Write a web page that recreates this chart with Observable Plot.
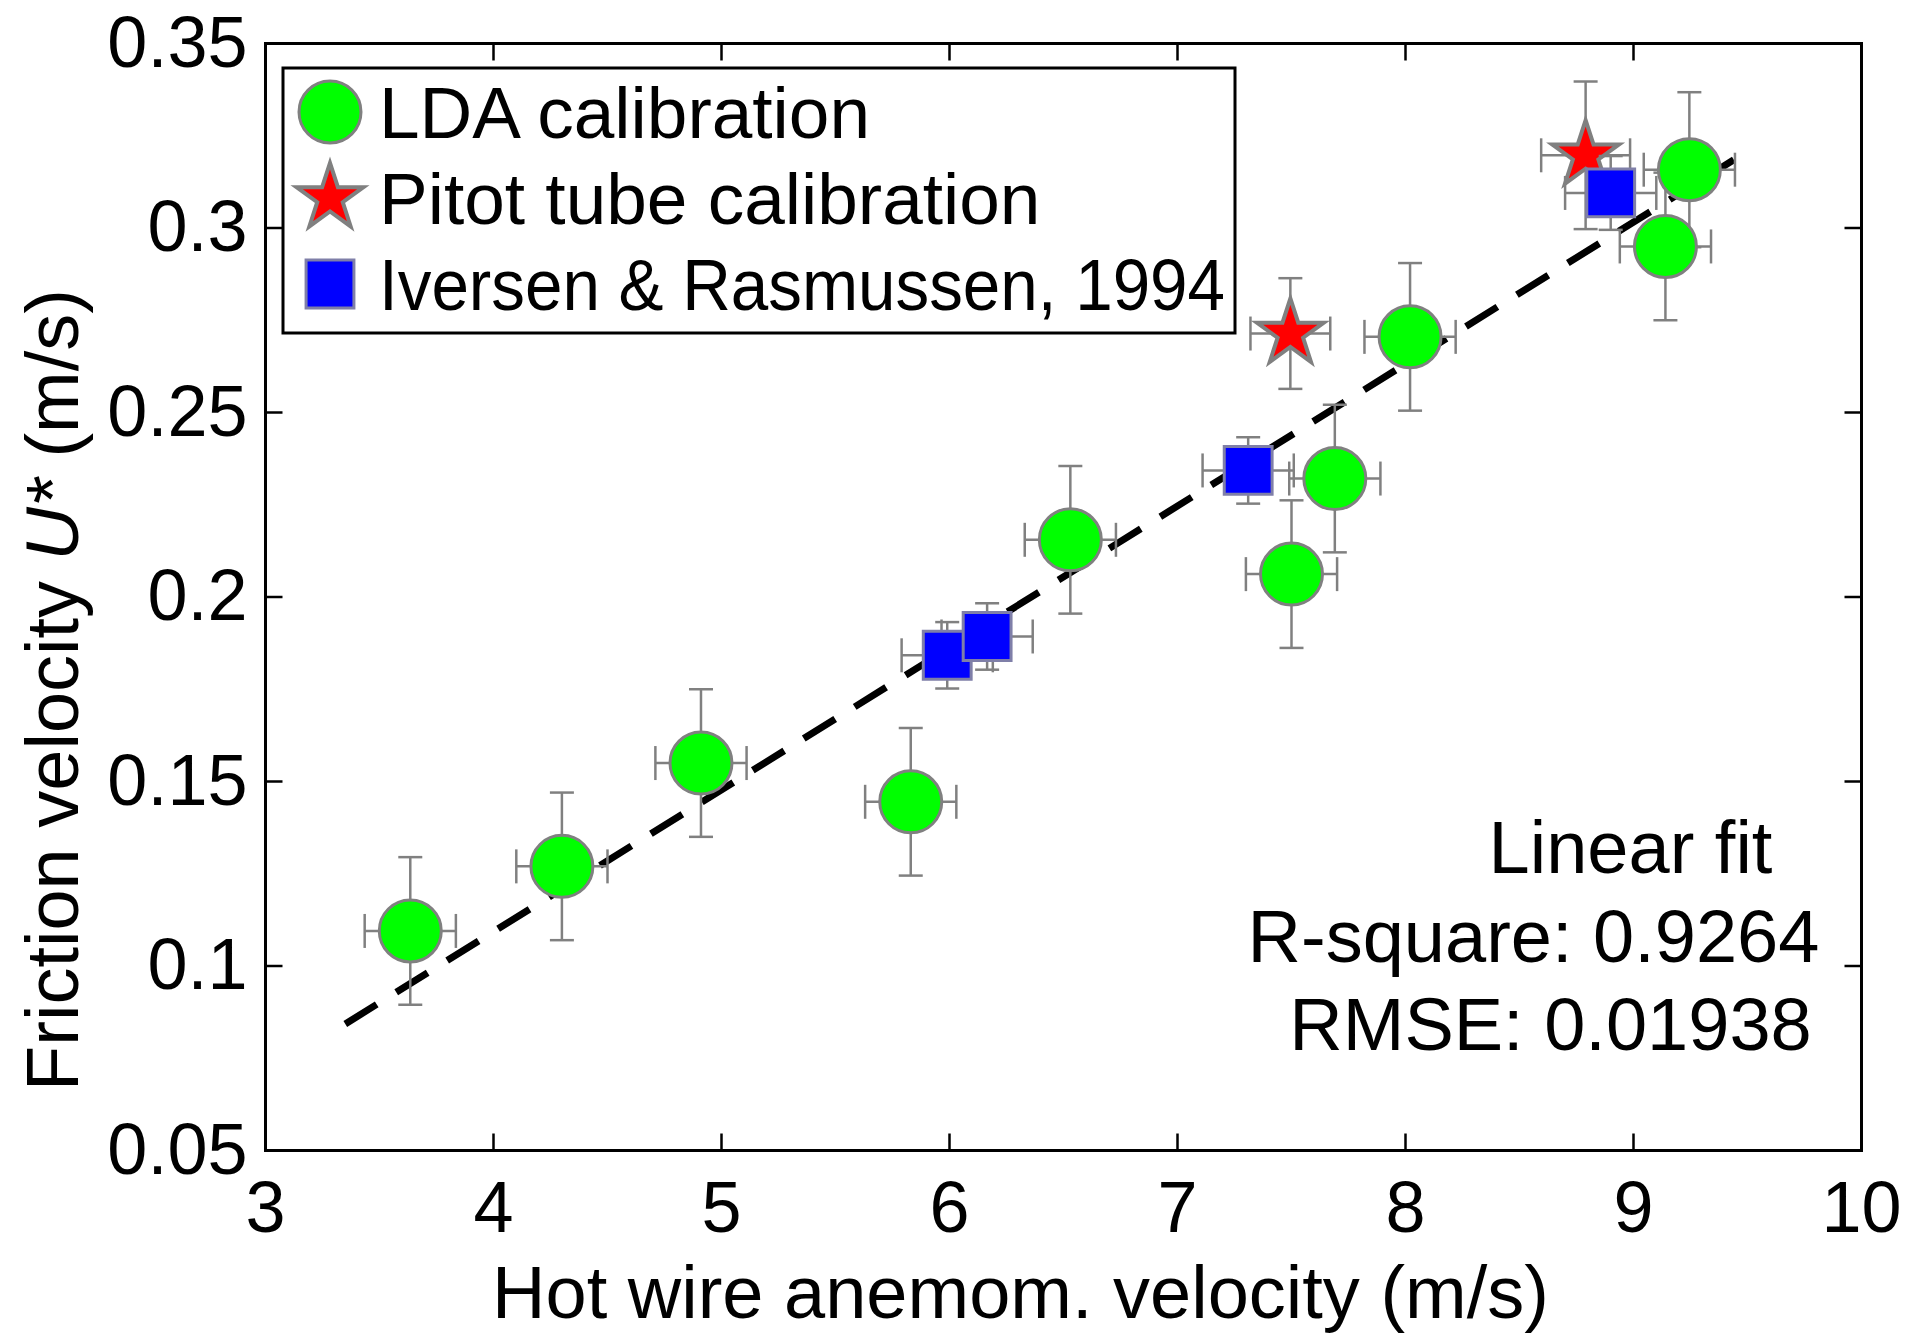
<!DOCTYPE html>
<html>
<head>
<meta charset="utf-8">
<script src="https://cdn.jsdelivr.net/npm/d3@7"></script>
<script src="https://cdn.jsdelivr.net/npm/@observablehq/plot@0.6"></script>
<style>
  html, body { margin: 0; padding: 0; background: #fff; }
  #chart { width: 1907px; height: 1333px; }
</style>
</head>
<body>
<div id="chart"></div>
<script>
// ---------- data ----------
const xTicks = [3, 4, 5, 6, 7, 8, 9, 10];
const xTickLabels = ["3", "4", "5", "6", "7", "8", "9", "10"];
const yTicks = [0.05, 0.1, 0.15, 0.2, 0.25, 0.3, 0.35];
const yTickLabels = ["0.05", "0.1", "0.15", "0.2", "0.25", "0.3", "0.35"];

const ldaX    = [3.635, 4.30, 4.91, 5.83, 6.53, 7.50, 7.69, 8.02, 9.14, 9.245];
const ldaY    = [0.1095, 0.127, 0.155, 0.1445, 0.2155, 0.2062, 0.2321, 0.2705, 0.2950, 0.3158];
const ldaXErr = [0.20, 0.20, 0.20, 0.20, 0.20, 0.20, 0.20, 0.20, 0.20, 0.20];
const ldaYErr = [0.020, 0.020, 0.020, 0.020, 0.020, 0.020, 0.020, 0.020, 0.020, 0.021];

const pitotX    = [7.495, 8.79];
const pitotY    = [0.2714, 0.3197];
const pitotXErr = [0.175, 0.195];
const pitotYErr = [0.015, 0.020];

const iversenX    = [5.99, 6.165, 7.31, 8.90];
const iversenY    = [0.1842, 0.1893, 0.2343, 0.3095];
const iversenXErr = [0.20, 0.20, 0.20, 0.20];
const iversenYErr = [0.009, 0.009, 0.009, 0.010];

const fitX = [3.35, 9.44];
const fitY = [0.0843, 0.3185];

const legendLabels = ["LDA calibration", "Pitot tube calibration", "Iversen & Rasmussen, 1994"];
const fitText = ["Linear fit", "R-square: 0.9264", "RMSE: 0.01938"];
const xTitle = "Hot wire anemom. velocity (m/s)";
const yTitle = "Friction velocity U* (m/s)";

// ---------- tables ----------
const mk = (X, Y, XE, YE) => X.map((x, i) => ({x, y: Y[i], xe: XE[i], ye: YE[i]}));
const lda = mk(ldaX, ldaY, ldaXErr, ldaYErr);
const pitot = mk(pitotX, pitotY, pitotXErr, pitotYErr);
const iversen = mk(iversenX, iversenY, iversenXErr, iversenYErr);
const fit = fitX.map((x, i) => ({x, y: fitY[i]}));

// ---------- styles ----------
const FONT = "'Liberation Sans', Arial, Helvetica, sans-serif";
const GRAY = "#808080";
const GREEN = "#00ff00";
const RED = "#ff0000";
const BLUE = "#0000ff";
const R_CIRCLE = 31, R_STAR = 21, R_SQUARE = 27;

// custom line symbols for error-bar caps and axis ticks
const capH = {draw(c) { c.moveTo(-12, 0); c.lineTo(12, 0); }};
const capV = {draw(c) { c.moveTo(0, -17); c.lineTo(0, 17); }};
const TL = 17;
const tickUp = {draw(c) { c.moveTo(0, 0); c.lineTo(0, -TL); }};
const tickDown = {draw(c) { c.moveTo(0, 0); c.lineTo(0, TL); }};
const tickRight = {draw(c) { c.moveTo(0, 0); c.lineTo(TL, 0); }};
const tickLeft = {draw(c) { c.moveTo(0, 0); c.lineTo(-TL, 0); }};

function errorBars(data) {
  const s = {stroke: GRAY, strokeWidth: 2.5};
  return [
    Plot.link(data, {x1: d => d.x - d.xe, x2: d => d.x + d.xe, y1: "y", y2: "y", ...s}),
    Plot.link(data, {x1: "x", x2: "x", y1: d => d.y - d.ye, y2: d => d.y + d.ye, ...s}),
    Plot.dot(data, {x: d => d.x - d.xe, y: "y", symbol: capV, fill: "none", ...s}),
    Plot.dot(data, {x: d => d.x + d.xe, y: "y", symbol: capV, fill: "none", ...s}),
    Plot.dot(data, {x: "x", y: d => d.y - d.ye, symbol: capH, fill: "none", ...s}),
    Plot.dot(data, {x: "x", y: d => d.y + d.ye, symbol: capH, fill: "none", ...s})
  ];
}

const xMin = xTicks[0], xMax = xTicks[xTicks.length - 1];
const yMin = yTicks[0], yMax = yTicks[yTicks.length - 1];
const innerX = xTicks.slice(1, -1), innerY = yTicks.slice(1, -1);
const tickStyle = {stroke: "black", strokeWidth: 2.5, fill: "none"};

const chart = Plot.plot({
  width: 1907,
  height: 1333,
  marginLeft: 265,
  marginRight: 46,
  marginTop: 43,
  marginBottom: 183,
  style: {fontFamily: FONT, fontSize: "72px", background: "white", color: "black", overflow: "visible"},
  x: {domain: [xMin, xMax], axis: null},
  y: {domain: [yMin, yMax], axis: null},
  marks: [
    // fit line
    Plot.line(fit, {x: "x", y: "y", stroke: "black", strokeWidth: 7, strokeDasharray: "37,23", strokeLinecap: "butt"}),
    // LDA
    ...errorBars(lda),
    Plot.dot(lda, {x: "x", y: "y", r: R_CIRCLE, symbol: "circle", fill: GREEN, stroke: GRAY, strokeWidth: 3}),
    // Pitot
    ...errorBars(pitot),
    Plot.dot(pitot, {x: "x", y: "y", r: R_STAR, symbol: "star", fill: RED, stroke: GRAY, strokeWidth: 4, strokeLinejoin: "miter"}),
    // Iversen
    ...errorBars(iversen),
    Plot.dot(iversen, {x: "x", y: "y", r: R_SQUARE, symbol: "square", fill: BLUE, stroke: "#7f7fa8", strokeWidth: 3}),
    // inward ticks on all four sides
    Plot.dot(innerX, {x: d => d, y: () => yMin, symbol: tickUp, ...tickStyle}),
    Plot.dot(innerX, {x: d => d, y: () => yMax, symbol: tickDown, ...tickStyle}),
    Plot.dot(innerY, {x: () => xMin, y: d => d, symbol: tickRight, ...tickStyle}),
    Plot.dot(innerY, {x: () => xMax, y: d => d, symbol: tickLeft, ...tickStyle}),
    Plot.frame({stroke: "black", strokeWidth: 3}),
    // tick labels
    Plot.text(xTicks, {x: d => d, y: () => yMin, text: (d, i) => xTickLabels[i], dy: 58, textAnchor: "middle", lineAnchor: "middle", fontSize: 72}),
    Plot.text(yTicks, {x: () => xMin, y: d => d, text: (d, i) => yTickLabels[i], dx: -18, textAnchor: "end", lineAnchor: "middle", fontSize: 72}),
    // axis titles
    Plot.text([xTitle], {frameAnchor: "bottom", text: d => d, dx: -43, dy: 144, textAnchor: "middle", lineAnchor: "middle", fontSize: 74}),
    Plot.text([yTitle], {frameAnchor: "left", text: d => d, rotate: -90, dx: -211, dy: 93, textAnchor: "middle", lineAnchor: "middle", fontSize: 74}),
    // fit statistics
    Plot.text([fitText[0]], {frameAnchor: "top-left", text: d => d, dx: 1365, dy: 806, textAnchor: "middle", lineAnchor: "middle", fontSize: 74}),
    Plot.text([fitText[1]], {frameAnchor: "top-left", text: d => d, dx: 1268, dy: 895, textAnchor: "middle", lineAnchor: "middle", fontSize: 74}),
    Plot.text([fitText[2]], {frameAnchor: "top-left", text: d => d, dx: 1285, dy: 983, textAnchor: "middle", lineAnchor: "middle", fontSize: 74})
  ]
});

document.getElementById("chart").appendChild(chart);

// italic U* in the y-axis title
const svg = d3.select(chart);
svg.selectAll("text").each(function() {
  if (this.textContent === yTitle) {
    const t = d3.select(this);
    t.text(null);
    t.append("tspan").text("Friction velocity ");
    t.append("tspan").attr("font-style", "italic").text("U*");
    t.append("tspan").text(" (m/s)");
  }
});

// legend (MATLAB style box, upper left)
const leg = svg.append("g").attr("font-family", FONT).attr("text-anchor", "start");
leg.append("rect")
  .attr("x", 283).attr("y", 68).attr("width", 952).attr("height", 265)
  .attr("fill", "white").attr("stroke", "black").attr("stroke-width", 3);
const legendSymbols = [
  {type: d3.symbolCircle, r: R_CIRCLE, fill: GREEN, stroke: GRAY, sw: 3},
  {type: d3.symbolStar, r: R_STAR, fill: RED, stroke: GRAY, sw: 4},
  {type: d3.symbolSquare, r: R_SQUARE, fill: BLUE, stroke: "#7f7fa8", sw: 3}
];
const rowY = [112, 198, 284];
const legendWidths = [null, null, 846];
legendLabels.forEach((label, i) => {
  const s = legendSymbols[i];
  leg.append("path")
    .attr("transform", `translate(330,${rowY[i]})`)
    .attr("d", d3.symbol(s.type, s.r * s.r * Math.PI)())
    .attr("fill", s.fill).attr("stroke", s.stroke).attr("stroke-width", s.sw);
  const t = leg.append("text")
    .attr("x", 379).attr("y", rowY[i]).attr("dy", "0.35em")
    .attr("font-size", 73).attr("fill", "black")
    .attr("text-anchor", "start")
    .text(label);
  if (legendWidths[i]) t.attr("textLength", legendWidths[i]).attr("lengthAdjust", "spacingAndGlyphs");
});
</script>
</body>
</html>
